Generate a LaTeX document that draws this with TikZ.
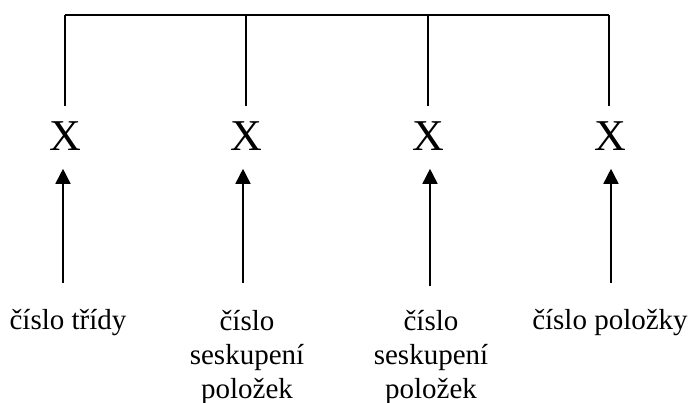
\documentclass[tikz,border=0pt]{standalone}
\usepackage{fontspec}
\setmainfont{Liberation Serif}
\usetikzlibrary{arrows.meta}
\begin{document}
\begin{tikzpicture}[x=1pt,y=-1pt,
  line width=1.6pt,
  bigx/.style={inner sep=0pt,anchor=base,font=\fontsize{44}{50}\selectfont},
  lbl/.style={inner sep=0pt,anchor=base,align=center,font=\fontsize{29}{34}\selectfont},
  arr/.style={-{Triangle[length=15pt,width=15pt]},shorten >=17pt}]
\useasboundingbox (0,0) rectangle (691,403);
% four fields
\node[bigx] (X1) at (65,151) {X};
\node[bigx] (X2) at (246,151) {X};
\node[bigx] (X3) at (428,151) {X};
\node[bigx] (X4) at (610,151) {X};
% bracket joining the fields
\coordinate (T1) at (65,15);
\coordinate (T2) at (246,15);
\coordinate (T3) at (428,15);
\coordinate (T4) at (609,15);
\draw (T1) -- (T4);
\draw (T1) -- ++(0,91);
\draw (T2) -- ++(0,91);
\draw (T3) -- ++(0,91);
\draw (T4) -- ++(0,91);
% labels (base anchor sits on the last line)
\node[lbl] (L1) at (68,330) {číslo třídy};
\node[lbl] (L2) at (247,398) {číslo\\seskupení\\položek};
\node[lbl] (L3) at (431,398) {číslo\\seskupení\\položek};
\node[lbl] (L4) at (610,330) {číslo položky};
% arrow tails
\coordinate (A1) at (63,283);
\coordinate (A2) at (243,283);
\coordinate (A3) at (430,286);
\coordinate (A4) at (611,283);
\draw[arr] (A1) -- (A1 |- X1.south);
\draw[arr] (A2) -- (A2 |- X2.south);
\draw[arr] (A3) -- (A3 |- X3.south);
\draw[arr] (A4) -- (A4 |- X4.south);
\end{tikzpicture}
\end{document}
